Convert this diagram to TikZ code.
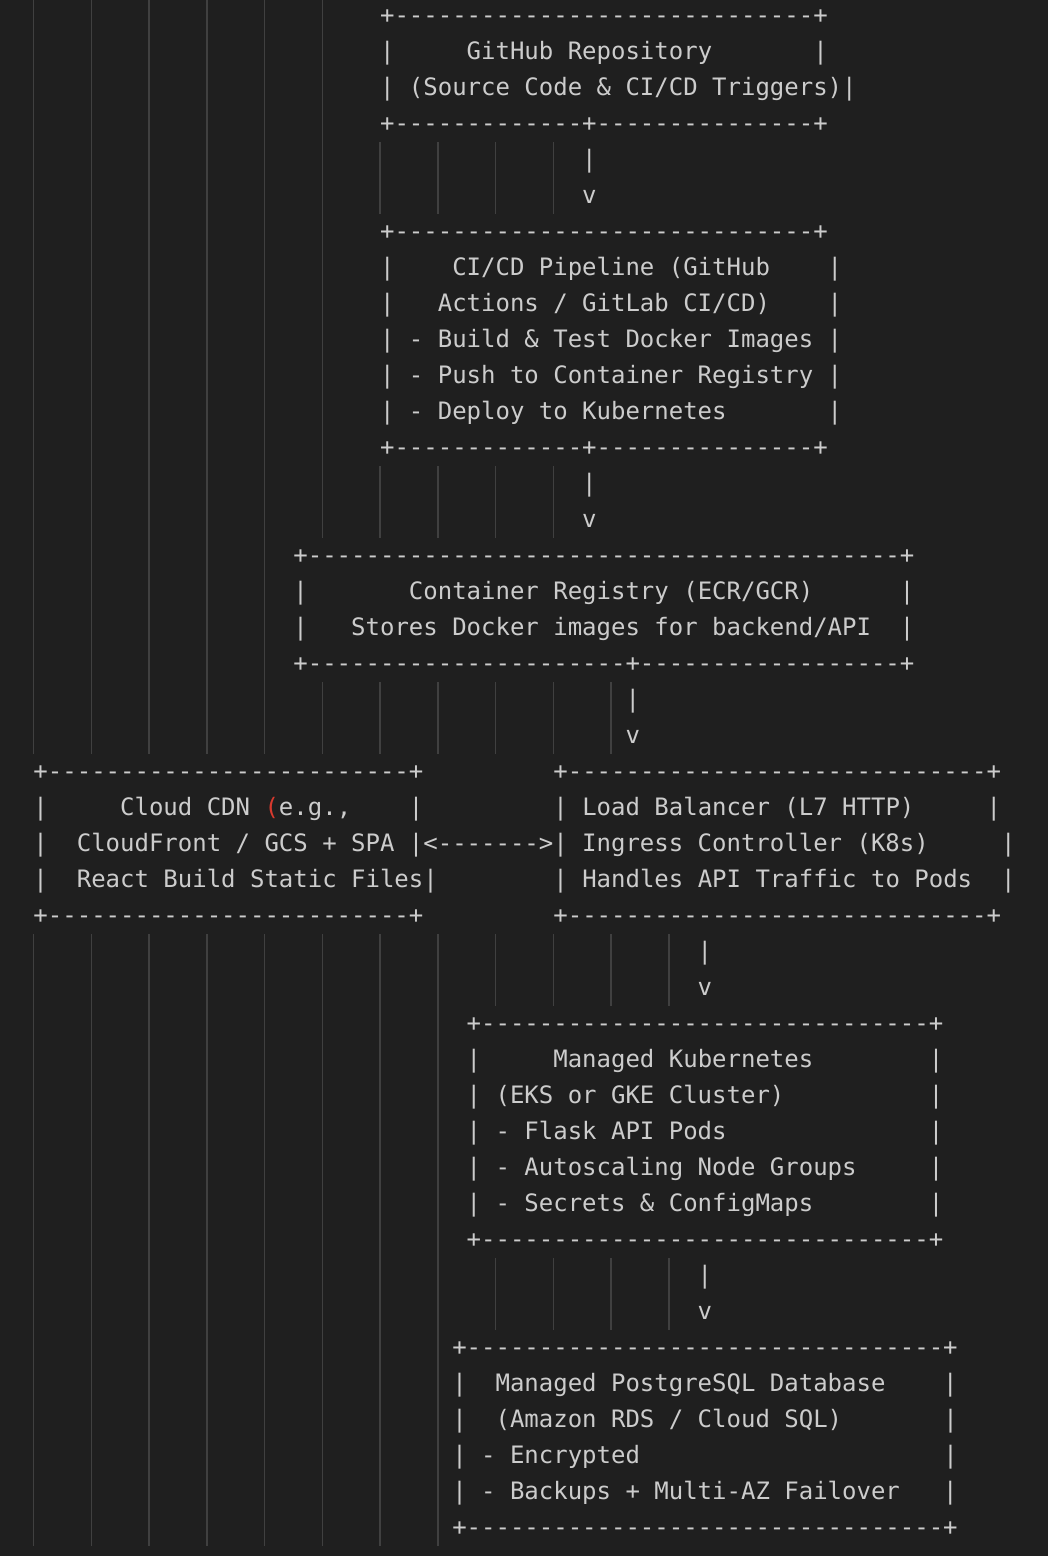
\documentclass[tikz,border=0pt]{standalone}
\usepackage{fontspec}
\setmonofont{DejaVu Sans Mono}
\definecolor{bg}{HTML}{1F1F1F}
\definecolor{fg}{HTML}{CCCCCC}
\definecolor{guide}{HTML}{404040}
\definecolor{bracketred}{HTML}{D93A2E}
\ExplSyntaxOn
\cs_new:Npn \dsh #1 { \prg_replicate:nn {#1} {-} }
\ExplSyntaxOff
\newcommand\spc[1]{\kern#1\fontdimen2\font}
\tikzset{
  txt/.style={anchor=base west, inner sep=0pt, outer sep=0pt, text=fg,
    font=\ttfamily\fontsize{17.99pt}{27pt}\selectfont},
  guideline/.style={draw=guide, line width=1.1pt}
}
\newcommand{\tline}[4]{\node[txt] (#1) at ({33.5+14.44*#3},{23.5+36*#2}) {#4};}
\newcommand{\guides}[3]{%
  \foreach \k in {0,...,#1}
    \draw[guideline] ({33.5+57.76*\k},{36*#2-2}) -- ({33.5+57.76*\k},{36*#3+34});}
\begin{document}
\begin{tikzpicture}[x=0.75pt,y=-0.75pt]
\fill[bg] (0,0) rectangle (1048,1556);
\useasboundingbox (0,0) rectangle (1048,1556);
% indent guides
\guides{5}{0}{3}
\guides{9}{4}{5}
\guides{5}{6}{12}
\guides{9}{13}{14}
\guides{4}{15}{18}
\guides{10}{19}{20}
\guides{11}{26}{27}
\guides{7}{28}{34}
\guides{11}{35}{36}
\guides{7}{37}{42}
% text lines
\tline{r0}{0}{24}{+\dsh{29}+}
\tline{r1}{1}{24}{|\spc{5}GitHub Repository\spc{7}|}
\tline{r2}{2}{24}{| (Source Code \& CI/CD Triggers)|}
\tline{r3}{3}{24}{+\dsh{13}+\dsh{15}+}
\tline{r4}{4}{38}{|}
\tline{r5}{5}{38}{v}
\tline{r6}{6}{24}{+\dsh{29}+}
\tline{r7}{7}{24}{|\spc{4}CI/CD Pipeline (GitHub\spc{4}|}
\tline{r8}{8}{24}{|\spc{3}Actions / GitLab CI/CD)\spc{4}|}
\tline{r9}{9}{24}{| - Build \& Test Docker Images |}
\tline{r10}{10}{24}{| - Push to Container Registry |}
\tline{r11}{11}{24}{| - Deploy to Kubernetes\spc{7}|}
\tline{r12}{12}{24}{+\dsh{13}+\dsh{15}+}
\tline{r13}{13}{38}{|}
\tline{r14}{14}{38}{v}
\tline{r15}{15}{18}{+\dsh{41}+}
\tline{r16}{16}{18}{|\spc{7}Container Registry (ECR/GCR)\spc{6}|}
\tline{r17}{17}{18}{|\spc{3}Stores Docker images for backend/API\spc{2}|}
\tline{r18}{18}{18}{+\dsh{22}+\dsh{18}+}
\tline{r19}{19}{41}{|}
\tline{r20}{20}{41}{v}
\tline{r21}{21}{0}{+\dsh{25}+\spc{9}+\dsh{29}+}
\tline{r22}{22}{0}{|\spc{5}Cloud CDN {\color{bracketred}(}e.g.,\spc{4}|\spc{9}| Load Balancer (L7 HTTP)\spc{5}|}
\tline{r23}{23}{0}{|\spc{2}CloudFront / GCS + SPA |<\dsh{7}>| Ingress Controller (K8s)\spc{5}|}
\tline{r24}{24}{0}{|\spc{2}React Build Static Files|\spc{8}| Handles API Traffic to Pods\spc{2}|}
\tline{r25}{25}{0}{+\dsh{25}+\spc{9}+\dsh{29}+}
\tline{r26}{26}{46}{|}
\tline{r27}{27}{46}{v}
\tline{r28}{28}{30}{+\dsh{31}+}
\tline{r29}{29}{30}{|\spc{5}Managed Kubernetes\spc{8}|}
\tline{r30}{30}{30}{| (EKS or GKE Cluster)\spc{10}|}
\tline{r31}{31}{30}{| - Flask API Pods\spc{14}|}
\tline{r32}{32}{30}{| - Autoscaling Node Groups\spc{5}|}
\tline{r33}{33}{30}{| - Secrets \& ConfigMaps\spc{8}|}
\tline{r34}{34}{30}{+\dsh{31}+}
\tline{r35}{35}{46}{|}
\tline{r36}{36}{46}{v}
\tline{r37}{37}{29}{+\dsh{33}+}
\tline{r38}{38}{29}{|\spc{2}Managed PostgreSQL Database\spc{4}|}
\tline{r39}{39}{29}{|\spc{2}(Amazon RDS / Cloud SQL)\spc{7}|}
\tline{r40}{40}{29}{| - Encrypted\spc{21}|}
\tline{r41}{41}{29}{| - Backups + Multi-AZ Failover\spc{3}|}
\tline{r42}{42}{29}{+\dsh{33}+}
\end{tikzpicture}
\end{document}
